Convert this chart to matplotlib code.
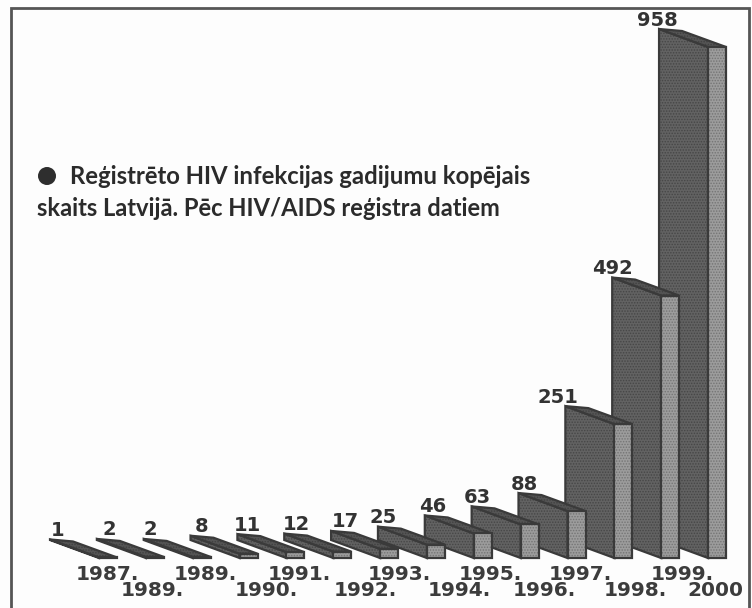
import matplotlib
matplotlib.use('Agg')
import matplotlib.pyplot as plt
from matplotlib.patches import Polygon, Circle

years = ['1987.', '1989.', '1989.', '1990.', '1991.', '1992.', '1993.',
         '1994.', '1995.', '1996.', '1997.', '1998.', '1999.', '2000']
cases = [1, 2, 2, 8, 11, 12, 17, 25, 46, 63, 88, 251, 492, 958]

# small sideways nudges, in pixels, the originals are not placed evenly
value_nudge = [8, 12, 7, 11, 10, 12, 14, 5, 8, 6, 6, -7, 0, -2]
year_nudge = [-10, -12, -5, 9, -5, 14, 1, 14, -1, 6, -5, 3, 3, -11]

W, H = 752, 608
BASE_Y = 558
FRONT_W = 18
STEP = 46.85
FIRST_RIGHT = 117
PX_PER_CASE = 511 / 958

INK = '#3a3a3a'
SIDE = '#626262'
FRONT = '#9c9c9c'
TOP = '#555555'

plt.rcParams['hatch.linewidth'] = 0.7

fig = plt.figure(figsize=(W / 100, H / 100), dpi=100, facecolor='#fdfdfd')
ax = fig.add_axes([0, 0, 1, 1])
ax.set_facecolor('#fdfdfd')
# x is bar number, y is number of cases
xpx = STEP
ax.set_xlim((0 - (FIRST_RIGHT - FRONT_W / 2)) / xpx, (W - (FIRST_RIGHT - FRONT_W / 2)) / xpx)
ax.set_ylim(-(H - BASE_Y) / PX_PER_CASE, BASE_Y / PX_PER_CASE)
ax.axis('off')


def dx(px):
    return px / STEP


def dy(px):
    return px / PX_PER_CASE


def face(pts, color, dots):
    # halftone dots first, then the dark outline on top
    ax.add_patch(Polygon(pts, closed=True, fc=color, ec=dots, lw=0, hatch='......'))
    ax.add_patch(Polygon(pts, closed=True, fc='none', ec=INK, lw=1.6))


half = dx(FRONT_W / 2)
for i in range(len(cases) - 1, -1, -1):
    v = cases[i]
    left = i - half
    right = i + half
    bl_x, bl_y = dx(-49), dy(18)
    br_x, br_y = dx(-44), dy(16)
    side = [(left, 0), (left, v), (left + bl_x, v + bl_y), (left + bl_x, bl_y)]
    top = [(left + bl_x, v + bl_y), (right + br_x, v + br_y), (right, v), (left, v)]
    front = [(left, 0), (left, v), (right, v), (right, 0)]
    face(side, SIDE, '#464646')
    face(top, TOP, '#404040')
    face(front, FRONT, '#747474')
    ax.text(left + bl_x + dx(value_nudge[i]), v + bl_y + dy(9), str(v), ha='center', va='center',
            fontsize=14, fontweight='bold', color='#333333', family='DejaVu Sans')

# year labels sit in two staggered rows
for i, y in enumerate(years):
    row = 16 if i % 2 == 0 else 33
    ax.text(i + dx(year_nudge[i]) + half, -dy(row), y, ha='center', va='center',
            fontsize=14.5, fontweight='bold', color='#3c3c3c', family='DejaVu Sans')

# title block and frame are placed in pixels
overlay = fig.add_axes([0, 0, 1, 1])
overlay.set_xlim(0, W)
overlay.set_ylim(H, 0)
overlay.axis('off')
overlay.patch.set_alpha(0)
overlay.add_patch(Circle((47, 176), 9, fc='#2e2e2e', ec='none'))
overlay.text(70, 177, 'Reģistrēto HIV infekcijas gadijumu kopējais', ha='left', va='center',
             fontsize=17.2, fontweight='bold', color='#2b2b2b', family='Lato')
overlay.text(37, 209, 'skaits Latvijā. Pēc HIV/AIDS reģistra datiem', ha='left', va='center',
             fontsize=17.1, fontweight='bold', color='#2b2b2b', family='Lato')
overlay.plot([11, 11, 749, 749], [H, 8, 8, H], color='#555555', lw=2, solid_joinstyle='miter')

fig.savefig('out.png', dpi=100, facecolor=fig.get_facecolor())
